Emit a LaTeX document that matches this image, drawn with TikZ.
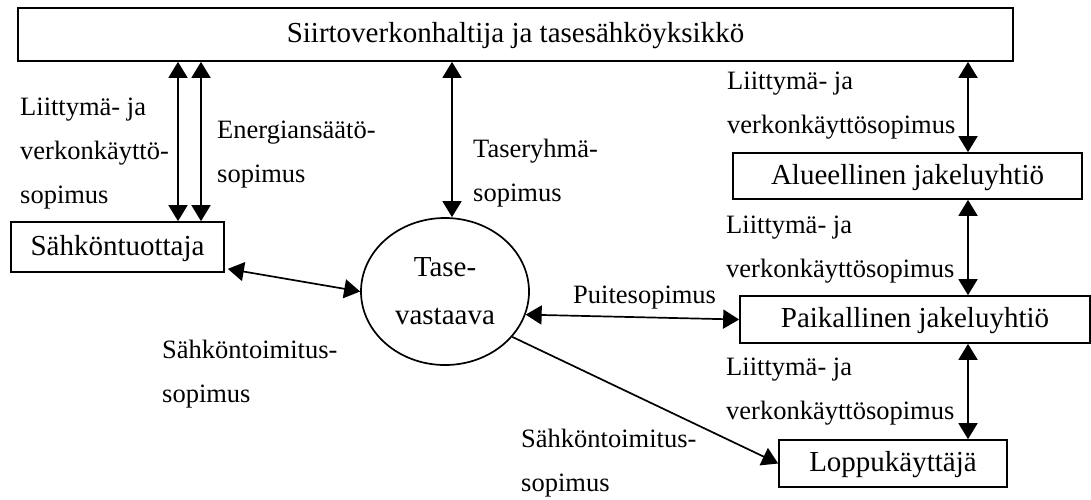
\documentclass[tikz,border=0pt]{standalone}
\usepackage{fontspec}
\setmainfont{Liberation Serif}
\usetikzlibrary{arrows.meta,shapes.geometric}
\newcommand\boxfont{\fontsize{29}{34}\selectfont}
\newcommand\lblfont{\fontsize{26.5}{44}\selectfont}
\newcommand\lines[1]{\begin{tabular}[t]{@{}l@{}}#1\end{tabular}}
\begin{document}
\begin{tikzpicture}[x=1pt,y=-1pt,
  party/.style={draw,line width=1.7pt,rectangle,inner sep=0pt,font=\boxfont,
    text height=21pt,text depth=5pt},
  tip/.tip={Triangle[length=16pt,width=19pt]},
  twoway/.style={line width=1.7pt,tip-tip},
  oneway/.style={line width=1.7pt,-tip},
  lbl/.style={anchor=base west,inner sep=0pt,font=\lblfont}]
\useasboundingbox (0,0) rectangle (1091,499);

% parties
\node[party,minimum width=995pt,minimum height=53pt] (tso) at (515.5,34.5)
  {Siirtoverkonhaltija ja tasesähköyksikkö};
\node[party,minimum width=213pt,minimum height=50pt] (prod) at (117.5,247) {Sähköntuottaja};
\node[draw,ellipse,line width=1.7pt,inner sep=0pt,minimum width=168pt,minimum height=147pt,
  font=\boxfont,align=center] (bal) at (445,291.5) {Tase-\\[14pt]vastaava};
\node[party,minimum width=349pt,minimum height=46pt] (reg) at (907.5,176) {Alueellinen jakeluyhtiö};
\node[party,minimum width=350pt,minimum height=47pt] (loc) at (915,319.5) {Paikallinen jakeluyhtiö};
\node[party,minimum width=228pt,minimum height=47pt] (user) at (893,463.5) {Loppukäyttäjä};

% x positions of the vertical contracts
\coordinate (xa) at (178,0);
\coordinate (xb) at (201,0);
\coordinate (xm) at (452,0);
\coordinate (xr) at (968,0);

% contracts
\draw[twoway] (tso.south -| xa) -- (prod.north -| xa);
\draw[twoway] (tso.south -| xb) -- (prod.north -| xb);
\draw[twoway] (tso.south -| xm) -- (bal.north -| xm);
\draw[twoway] (tso.south -| xr) -- (reg.north -| xr);
\draw[twoway] (reg.south -| xr) -- (loc.north -| xr);
\draw[twoway] (loc.south -| xr) -- (user.north -| xr);
\draw[twoway] ([shift={(3,-4)}]prod.south east) -- (bal.west);
\draw[twoway] (bal.-16) -- (loc.west);
\draw[oneway] (bal.-34) -- (user.west);

% contract names
\node[lbl] (l1) at (20,115) {\lines{Liittymä- ja\\verkonkäyttö-\\sopimus}};
\node[lbl] (l2) at (217,138) {\lines{Energiansäätö-\\sopimus}};
\node[lbl] (l3) at (473,157) {\lines{Taseryhmä-\\sopimus}};
\node[lbl] (l4) at (727,89) {\lines{Liittymä- ja\\verkonkäyttösopimus}};
\node[lbl] (l5) at (726,233) {\lines{Liittymä- ja\\verkonkäyttösopimus}};
\node[lbl] (l6) at (726,375) {\lines{Liittymä- ja\\verkonkäyttösopimus}};
\node[lbl] (l7) at (573,303) {Puitesopimus};
\node[lbl] (l8) at (162,358) {\lines{Sähköntoimitus-\\sopimus}};
\node[lbl] (l9) at (521,447) {\lines{Sähköntoimitus-\\sopimus}};
\end{tikzpicture}
\end{document}
